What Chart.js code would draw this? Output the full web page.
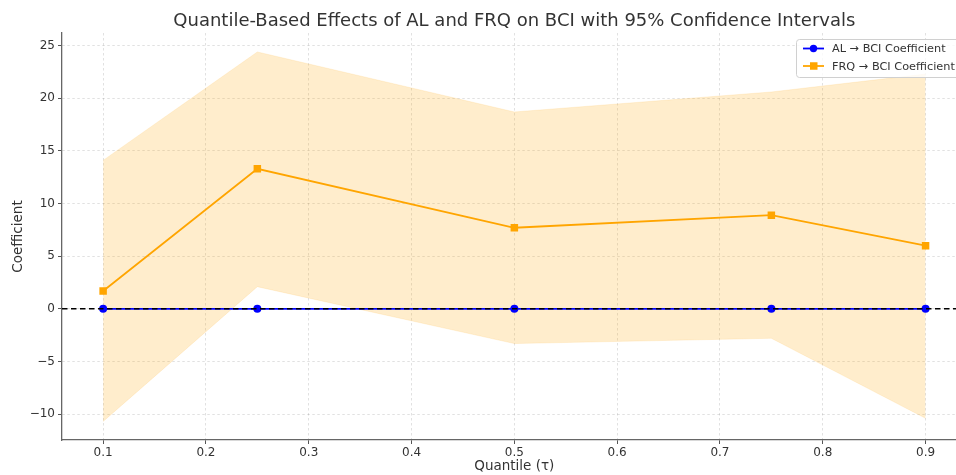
<!DOCTYPE html>
<html>
<head>
<meta charset="utf-8">
<script src="https://cdn.jsdelivr.net/npm/chart.js@4.4.1/dist/chart.umd.min.js"></script>
<style>
  html, body { margin: 0; padding: 0; background: #fff; overflow: hidden; }
  #wrap { width: 972px; height: 475px; position: relative; }
</style>
</head>
<body>
<div id="wrap"><canvas id="qChart"></canvas></div>
<script>
// quantile regression results
const quantiles = [0.1, 0.25, 0.5, 0.75, 0.9];
const alCoef   = [0.0, 0.0, 0.0, 0.0, 0.0];
const frqCoef  = [1.7, 13.3, 7.7, 8.9, 6.0];
const frqUpper = [14.1, 24.4, 18.7, 20.6, 22.3];
const frqLower = [-10.7, 2.1, -3.3, -2.8, -10.4];

const xTicks = [0.1, 0.2, 0.3, 0.4, 0.5, 0.6, 0.7, 0.8, 0.9];
const yTicks = [-10, -5, 0, 5, 10, 15, 20, 25];

const FONT = "'DejaVu Sans', sans-serif";
const BLUE = "#0000ff";
const ORANGE = "#ffa500";

const pts = (ys) => quantiles.map((q, i) => ({ x: q, y: ys[i] }));

// dashed reference line at zero, drawn over the series
const zeroLine = {
    id: "zeroLine",
    afterDatasetsDraw(chart) {
        const { ctx, chartArea, scales } = chart;
        const y = scales.y.getPixelForValue(0);
        ctx.save();
        ctx.strokeStyle = "#000";
        ctx.lineWidth = 1.5;
        ctx.setLineDash([5.5, 3.5]);
        ctx.beginPath();
        ctx.moveTo(chartArea.left, y);
        ctx.lineTo(chartArea.right, y);
        ctx.stroke();
        ctx.restore();
    }
};

// boxed legend in the upper right corner
const boxLegend = {
    id: "boxLegend",
    afterDraw(chart) {
        const { ctx } = chart;
        const items = chart.data.datasets.filter(d => d.inLegend);
        const x0 = 796, y0 = 39, w = 170, rowH = 17.5;
        ctx.save();
        ctx.fillStyle = "rgba(255,255,255,0.8)";
        ctx.strokeStyle = "#d0d0d0";
        ctx.lineWidth = 1;
        ctx.beginPath();
        ctx.roundRect(x0 + 0.5, y0 + 0.5, w, items.length * rowH + 3, 3);
        ctx.fill();
        ctx.stroke();
        ctx.font = "11.3px " + FONT;
        ctx.textBaseline = "middle";
        items.forEach((d, i) => {
            const cy = y0 + 9.5 + i * rowH;
            ctx.strokeStyle = d.borderColor;
            ctx.lineWidth = 1.8;
            ctx.beginPath();
            ctx.moveTo(x0 + 7, cy);
            ctx.lineTo(x0 + 28, cy);
            ctx.stroke();
            ctx.fillStyle = d.borderColor;
            if (d.pointStyle === "rect") {
                ctx.fillRect(x0 + 14, cy - 3.75, 7.5, 7.5);
            } else {
                ctx.beginPath();
                ctx.arc(x0 + 17.5, cy, 3.7, 0, Math.PI * 2);
                ctx.fill();
            }
            ctx.fillStyle = "#333";
            ctx.fillText(d.label, x0 + 36, cy + 1);
        });
        ctx.restore();
    }
};

new Chart(document.getElementById("qChart"), {
    type: "line",
    data: {
        datasets: [
            {
                label: "AL \u2192 BCI Coefficient",
                data: pts(alCoef),
                borderColor: BLUE,
                backgroundColor: BLUE,
                borderWidth: 1.8,
                pointStyle: "circle",
                pointRadius: 4,
                pointBorderWidth: 0,
                inLegend: true,
                order: 2
            },
            {
                label: "FRQ \u2192 BCI Coefficient",
                data: pts(frqCoef),
                borderColor: ORANGE,
                backgroundColor: ORANGE,
                borderWidth: 1.8,
                pointStyle: "rect",
                pointRadius: 5.3,
                pointBorderWidth: 0,
                inLegend: true,
                order: 1
            },
            {
                label: "FRQ upper",
                data: pts(frqUpper),
                borderColor: "rgba(255,165,0,0.12)",
                borderWidth: 1,
                backgroundColor: "rgba(255,165,0,0.2)",
                pointRadius: 0,
                fill: "+1",
                order: 3
            },
            {
                label: "FRQ lower",
                data: pts(frqLower),
                borderColor: "rgba(255,165,0,0.12)",
                borderWidth: 1,
                pointRadius: 0,
                fill: false,
                order: 3
            }
        ]
    },
    options: {
        responsive: true,
        maintainAspectRatio: false,
        animation: false,
        layout: { padding: { top: 33, right: 0, left: 0, bottom: 0 } },
        plugins: {
            legend: { display: false },
            tooltip: { enabled: false },
            title: { display: false }
        },
        scales: {
            x: {
                type: "linear",
                min: 0.06,
                max: 0.94,
                afterBuildTicks: (s) => { s.ticks = xTicks.map(v => ({ value: v })); },
                afterFit: (s) => { s.height = 35; },
                ticks: {
                    color: "#333",
                    font: { family: FONT, size: 12 },
                    padding: 2,
                    maxRotation: 0,
                    callback: (v) => v.toFixed(1)
                },
                grid: {
                    color: "rgba(0,0,0,0.15)",
                    lineWidth: 0.8,
                    tickLength: 4,
                    tickColor: "#555",
                    tickWidth: 1,
                    tickBorderDash: []
                },
                border: { display: true, color: "#666", width: 1.3, dash: [2.5, 2.5] },
                title: {
                    display: true,
                    text: "Quantile (\u03c4)",
                    color: "#333",
                    font: { family: FONT, size: 13.5 },
                    padding: { top: 0, bottom: 0 }
                }
            },
            y: {
                type: "linear",
                min: -12.46,
                max: 26.2,
                afterBuildTicks: (s) => { s.ticks = yTicks.map(v => ({ value: v })); },
                afterFit: (s) => { s.width = 62; },
                ticks: {
                    color: "#333",
                    font: { family: FONT, size: 12 },
                    padding: 3,
                    callback: (v) => v < 0 ? "\u2212" + Math.abs(v) : String(v)
                },
                grid: {
                    color: "rgba(0,0,0,0.15)",
                    lineWidth: 0.8,
                    tickLength: 4,
                    tickColor: "#555",
                    tickWidth: 1,
                    tickBorderDash: []
                },
                border: { display: true, color: "#666", width: 1.3, dash: [2.5, 2.5] },
                title: {
                    display: true,
                    text: "Coefficient",
                    color: "#333",
                    font: { family: FONT, size: 13.5 },
                    padding: { top: 10, bottom: 0 }
                }
            }
        }
    },
    plugins: [zeroLine, boxLegend, {
        id: "plotTitle",
        afterDraw(chart) {
            const { ctx, chartArea } = chart;
            ctx.save();
            ctx.font = "18px " + FONT;
            ctx.fillStyle = "#333";
            ctx.textAlign = "center";
            ctx.textBaseline = "middle";
            ctx.fillText("Quantile-Based Effects of AL and FRQ on BCI with 95% Confidence Intervals",
                (chartArea.left + chartArea.right) / 2, 21);
            ctx.restore();
        }
    }]
});
</script>
</body>
</html>
